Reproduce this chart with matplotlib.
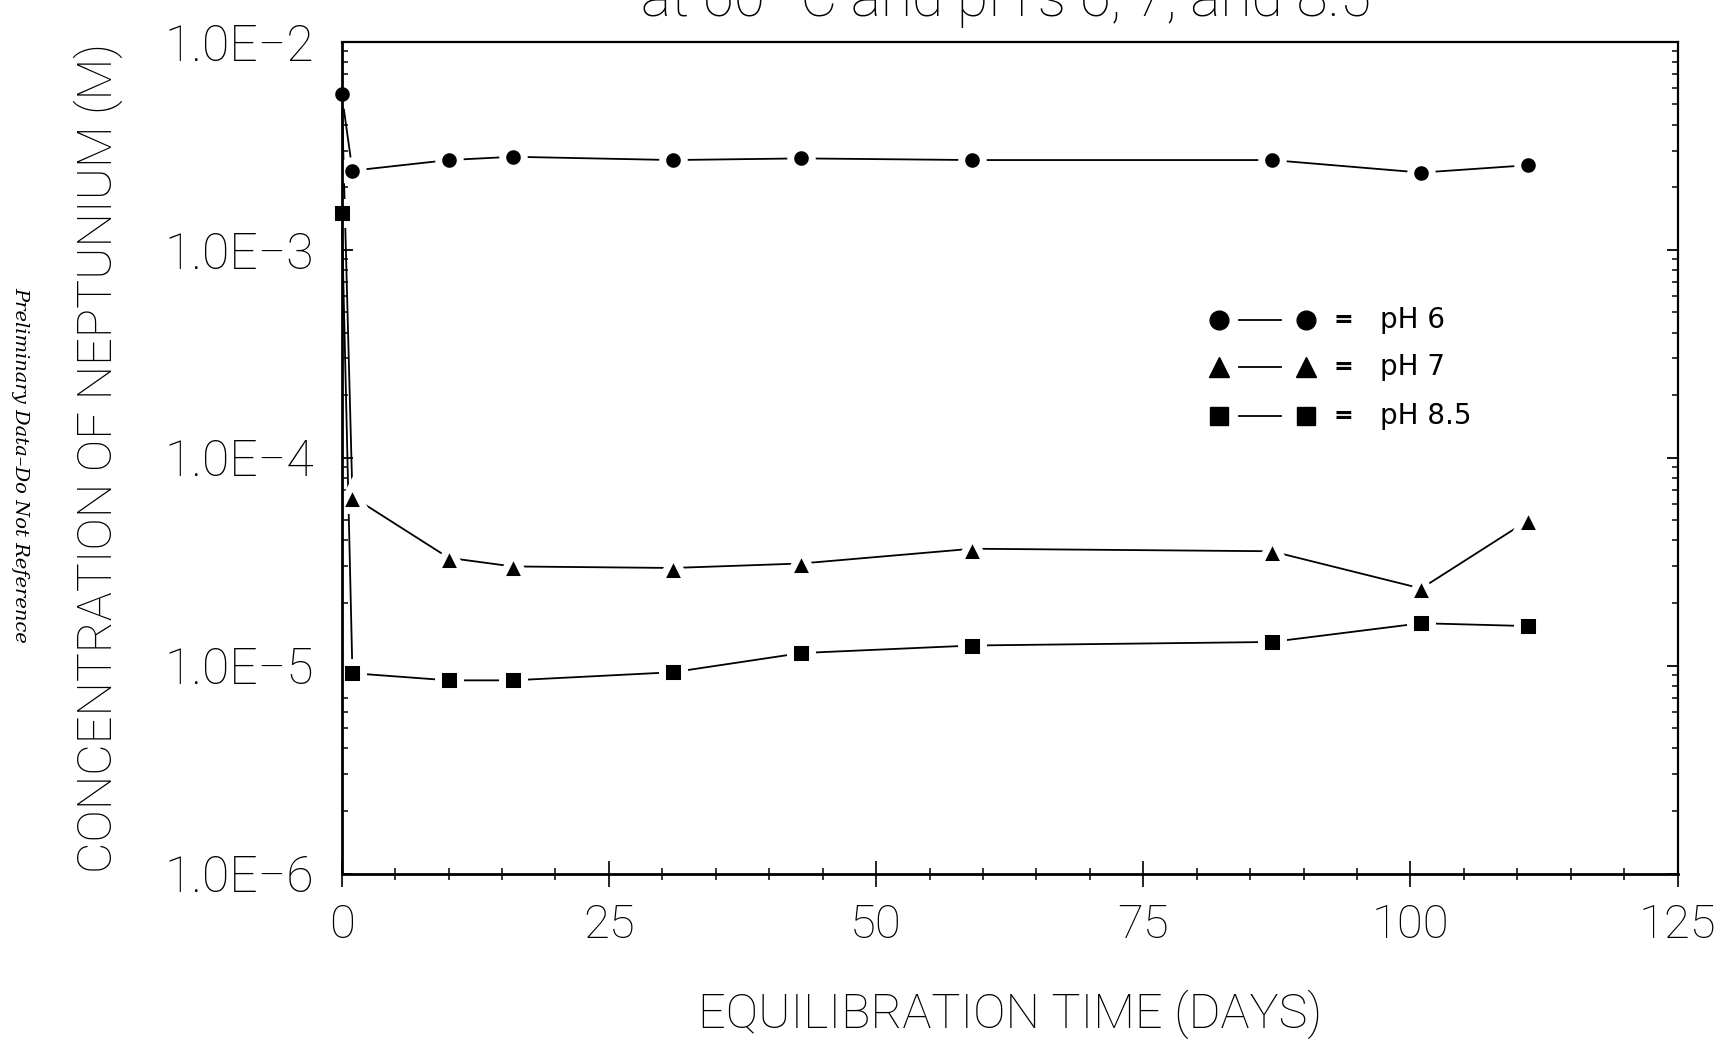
import matplotlib
matplotlib.use("Agg")
import matplotlib.pyplot as plt
from matplotlib import font_manager
from matplotlib.ticker import MultipleLocator, FixedLocator, LogLocator, NullFormatter

# Np solubility vs. equilibration time, three pH series
days = [0, 1, 10, 16, 31, 43, 59, 87, 101, 111]
conc_ph6 = [5.6e-3, 2.4e-3, 2.7e-3, 2.8e-3, 2.7e-3, 2.75e-3, 2.7e-3, 2.7e-3, 2.35e-3, 2.55e-3]
conc_ph7 = [5.6e-3, 6.5e-5, 3.3e-5, 3.0e-5, 2.95e-5, 3.1e-5, 3.65e-5, 3.55e-5, 2.35e-5, 5.0e-5]
conc_ph85 = [1.5e-3, 9.2e-6, 8.5e-6, 8.5e-6, 9.3e-6, 1.15e-5, 1.25e-5, 1.3e-5, 1.6e-5, 1.55e-5]

y_ticks = [1e-6, 1e-5, 1e-4, 1e-3, 1e-2]
y_ticklabels = ["1.0E\u22126", "1.0E\u22125", "1.0E\u22124", "1.0E\u22123", "1.0E\u22122"]
x_ticks = [0, 25, 50, 75, 100, 125]
legend_labels = ["pH 6", "pH 7", "pH 8.5"]
markers = ["o", "^", "s"]

# thin lettering for the axis text if such a face is installed
fonts = font_manager.fontManager.ttflist
names = {f.name for f in fonts}
thin = dict(family="DejaVu Sans")
if any(f.name == "Roboto" and f.weight in (100, 200, 300, "light", "thin") for f in fonts):
    thin = dict(family="Roboto", fontweight="light")
elif "Roboto Condensed" in names:
    thin = dict(family="Roboto Condensed", fontweight="light")

fig = plt.figure(figsize=(17.26, 10.45), dpi=100)
ax = fig.add_axes([0.198, 0.164, 0.774, 0.796])

series = [conc_ph7, conc_ph85, conc_ph6]
mks = ["^", "s", "o"]
for vals in series:
    ax.plot(days, vals, color="black", lw=1.3, zorder=2, clip_on=False)
for vals, m in zip(series, mks):
    ms = {"o": 15.5, "^": 19, "s": 15.5}[m]
    every = range(1, len(days)) if m == "^" else None
    ax.plot(days, vals, linestyle="none", marker=m, ms=ms, mfc="black",
            mec="white", mew=5, zorder=3, clip_on=False, markevery=every)

ax.set_yscale("log")
ax.set_xlim(0, 125)
ax.set_ylim(1e-6, 1e-2)

ax.xaxis.set_major_locator(FixedLocator(x_ticks))
ax.xaxis.set_minor_locator(MultipleLocator(5))
ax.set_xticklabels([str(t) for t in x_ticks], fontsize=34, **thin)
ax.yaxis.set_major_locator(FixedLocator(y_ticks))
ax.yaxis.set_minor_locator(LogLocator(base=10, subs=range(2, 10)))
ax.yaxis.set_minor_formatter(NullFormatter())
ax.set_yticklabels(y_ticklabels, fontsize=36, **thin)

ax.tick_params(axis="x", which="major", direction="inout", length=19, width=1.2,
               pad=12, top=False)
ax.tick_params(axis="x", which="minor", direction="inout", length=8.5, width=1.1,
               top=False)
ax.tick_params(axis="y", which="major", direction="in", length=8, width=1.3,
               right=True, pad=20)
ax.tick_params(axis="y", which="minor", direction="in", length=4, width=1.1,
               right=True)

for side, sp in ax.spines.items():
    sp.set_linewidth(2.0 if side in ("left", "bottom") else 1.6)
    sp.set_zorder(4)

ax.set_xlabel("EQUILIBRATION TIME (DAYS)", fontsize=35, labelpad=30, **thin)
ax.set_ylabel("CONCENTRATION OF NEPTUNIUM (M)", fontsize=35, labelpad=30, **thin)

# hand-drawn key: marker — marker = label
key_rows = [0.665, 0.609, 0.550]
for yk, m, lab in zip(key_rows, markers, legend_labels):
    ax.plot([0.657, 0.722], [yk, yk], linestyle="none", marker=m,
            ms=15 if m == "^" else 13.5, color="black",
            transform=ax.transAxes, clip_on=False)
    ax.plot([0.672, 0.703], [yk, yk], color="black", lw=1.3,
            transform=ax.transAxes)
    ax.text(0.750, yk, "=", fontsize=17, fontweight="bold", ha="center",
            va="center", transform=ax.transAxes)
    ax.text(0.777, yk, lab, fontsize=20, ha="left", va="center",
            transform=ax.transAxes)

fig.text(0.583, 0.985, "at 60\u00b0 C and pH's 6, 7, and 8.5", fontsize=41,
         ha="center", va="baseline", **thin)

fig.text(0.012, 0.555, "Preliminary Data\u2013Do Not Reference", rotation=-90,
         fontsize=14, family="DejaVu Serif", style="italic", ha="center",
         va="center")

fig.savefig("out.png", dpi=100)
